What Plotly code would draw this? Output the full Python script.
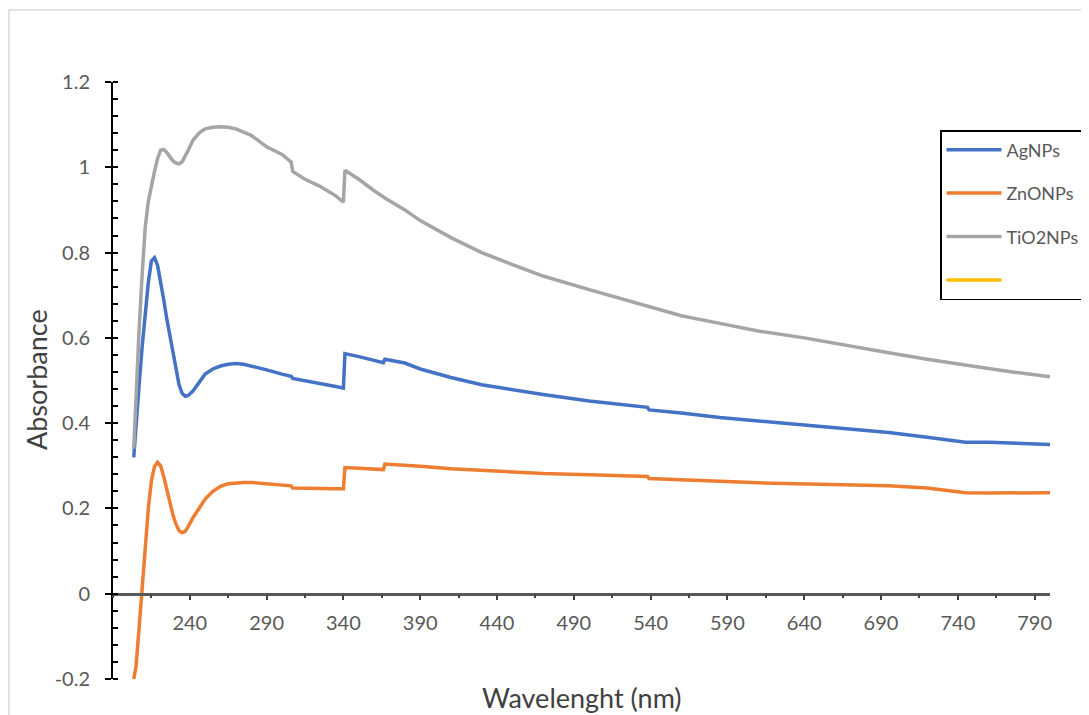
import plotly.graph_objects as go

# ---------------- data ----------------
wavelength = [203.5, 205, 207, 209, 211, 213, 215, 217, 219, 221, 223, 225, 227, 229, 231,
              233, 235, 237, 239, 242, 246, 250, 255, 260, 265, 270, 275, 280, 290, 300,
              306, 307, 315, 325, 335, 340, 341, 350, 360, 366, 367, 380, 390, 410, 430,
              450, 470, 500, 520, 538, 539, 560, 585, 610, 640, 670, 695, 720, 745, 760,
              780, 800]

ag_nps = [0.32, 0.40, 0.49, 0.58, 0.66, 0.73, 0.78, 0.788, 0.77, 0.735, 0.69, 0.645, 0.605,
          0.565, 0.525, 0.49, 0.47, 0.463, 0.465, 0.475, 0.495, 0.515, 0.527, 0.534, 0.538,
          0.54, 0.538, 0.534, 0.525, 0.515, 0.51, 0.505, 0.50, 0.493, 0.486, 0.482, 0.563,
          0.556, 0.547, 0.542, 0.55, 0.541, 0.527, 0.507, 0.49, 0.478, 0.467, 0.452, 0.444,
          0.437, 0.431, 0.424, 0.413, 0.405, 0.397, 0.387, 0.378, 0.367, 0.355, 0.355,
          0.352, 0.35]

zno_nps = [-0.2, -0.17, -0.08, 0.015, 0.11, 0.2, 0.265, 0.298, 0.308, 0.30, 0.275, 0.245,
           0.213, 0.185, 0.163, 0.148, 0.143, 0.146, 0.158, 0.178, 0.20, 0.222, 0.24, 0.252,
           0.258, 0.26, 0.261, 0.261, 0.258, 0.255, 0.253, 0.248, 0.247, 0.246, 0.246, 0.246,
           0.296, 0.294, 0.292, 0.291, 0.304, 0.302, 0.299, 0.293, 0.289, 0.285, 0.282,
           0.279, 0.277, 0.275, 0.27, 0.268, 0.264, 0.26, 0.258, 0.256, 0.253, 0.248, 0.237,
           0.236, 0.236, 0.237]

tio2_nps = [0.34, 0.47, 0.62, 0.75, 0.86, 0.92, 0.96, 0.99, 1.02, 1.04, 1.042, 1.035, 1.025,
            1.015, 1.01, 1.008, 1.013, 1.025, 1.04, 1.063, 1.08, 1.09, 1.094, 1.095, 1.094,
            1.09, 1.083, 1.075, 1.048, 1.03, 1.012, 0.99, 0.972, 0.955, 0.933, 0.918, 0.993,
            0.972, 0.945, 0.93, 0.928, 0.90, 0.875, 0.835, 0.80, 0.772, 0.745, 0.713, 0.693,
            0.673, 0.672, 0.652, 0.634, 0.616, 0.60, 0.58, 0.565, 0.55, 0.535, 0.528, 0.518,
            0.509]

empty_series = []  # fourth (unnamed) legend entry has no data

series_names = ["AgNPs", "ZnONPs", "TiO2NPs", "\u00a0"]
series_colors = ["#4472C4", "#ED7D31", "#A5A5A5", "#FFC000"]

x_tick_vals = [240, 290, 340, 390, 440, 490, 540, 590, 640, 690, 740, 790]
y_tick_vals = [-0.2, 0, 0.2, 0.4, 0.6, 0.8, 1.0, 1.2]
y_tick_text = ["-0.2", "0", "0.2", "0.4", "0.6", "0.8", "1", "1.2"]

x_title = "Wavelenght (nm)"
y_title = "Absorbance"

# ---------------- figure ----------------
FONT = "Lato"
TXT = "#595959"

fig = go.Figure()
all_values = [ag_nps, zno_nps, tio2_nps, empty_series]
for i, (name, col, vals) in enumerate(zip(series_names, series_colors, all_values)):
    if vals:
        xs, ys = wavelength, vals
    else:
        xs, ys = [None], [None]
    fig.add_trace(go.Scatter(x=xs, y=ys, name=name, mode="lines",
                             line=dict(color=col, width=3.5),
                             legendgroup="g%d" % i, showlegend=True))

# page body has an 8px margin; figure starts at (8, 8) in the window
OFF = 8
W, H = 1089 - OFF, 715 - OFF
PL, PR, PT, PB = 113, 1050, 82, 679          # plot area in window pixels
L, T = PL - OFF, PT - OFF
R, B = 1089 - PR, 715 - PB
PW, PH = PR - PL, PB - PT


def px_x(p):
    return (p - PL) / PW


def px_y(p):
    return (PB - p) / PH


fig.update_layout(
    width=W, height=H,
    margin=dict(l=L, r=R, t=T, b=B, pad=0, autoexpand=False),
    paper_bgcolor="white", plot_bgcolor="white",
    font=dict(family=FONT, color=TXT),
    showlegend=True,
    legend=dict(x=px_x(940), y=px_y(130),
                xanchor="left", yanchor="top",
                bordercolor="black", borderwidth=1.5, bgcolor="white",
                font=dict(family=FONT, size=18, color=TXT),
                tracegroupgap=17, itemwidth=55),
    xaxis=dict(range=[190, 800], anchor="free", position=0.2 / 1.4,
               tickmode="array", tickvals=x_tick_vals,
               ticks="outside", ticklen=5, tickwidth=1.5, tickcolor="#404040",
               minor=dict(dtick=25, tick0=215, ticks="outside", ticklen=3,
                          tickwidth=1.5, tickcolor="#404040"),
               showline=True, linecolor="#595959", linewidth=2.5,
               showgrid=False, zeroline=False,
               tickfont=dict(family=FONT, size=20, color=TXT),
               ticklabelstandoff=6),
    yaxis=dict(range=[-0.2, 1.2], domain=[0, 1],
               tickmode="array", tickvals=y_tick_vals, ticktext=y_tick_text,
               ticks="outside", ticklen=6, tickwidth=2, tickcolor="black",
               minor=dict(dtick=0.04, tick0=0, ticks="inside", ticklen=5,
                          tickwidth=1.5, tickcolor="black"),
               showline=True, linecolor="black", linewidth=2,
               showgrid=False, zeroline=False,
               tickfont=dict(family=FONT, size=20, color=TXT),
               ticklabelstandoff=11),
)

# axis titles
fig.add_annotation(text=x_title, xref="paper", yref="paper",
                   x=px_x(582), y=px_y(697),
                   showarrow=False, xanchor="center", yanchor="middle",
                   font=dict(family=FONT, size=27, color="#404040"))
fig.add_annotation(text=y_title, xref="paper", yref="paper",
                   x=px_x(36), y=px_y(380), textangle=-90,
                   showarrow=False, xanchor="center", yanchor="middle",
                   font=dict(family=FONT, size=27, color="#404040"))

# light outer chart frame (top/left visible)
fig.add_shape(type="rect", xref="paper", yref="paper",
              x0=px_x(9), x1=px_x(1110),
              y0=px_y(740), y1=px_y(10),
              line=dict(color="#D9D9D9", width=1.5), layer="below")

fig.write_html("out.html")
